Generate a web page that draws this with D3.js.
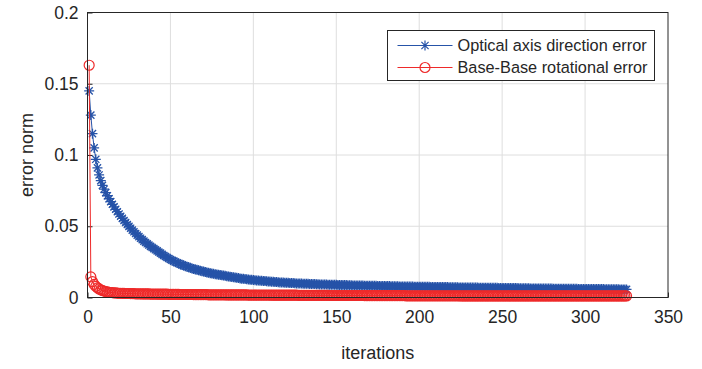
<!DOCTYPE html>
<html>
<head>
<meta charset="utf-8">
<script src="https://cdn.jsdelivr.net/npm/d3@7"></script>
<style>
  body { margin: 0; background: #fff; }
  text { font-family: "Liberation Sans", Arial, sans-serif; fill: #262626; }
</style>
</head>
<body>
<svg id="chart" width="702" height="369"></svg>
<script>
'use strict';

var seriesNames = ['Optical axis direction error', 'Base-Base rotational error'];
var xTicks = [0, 50, 100, 150, 200, 250, 300, 350];
var yTicks = [0, 0.05, 0.1, 0.15, 0.2];
var yTickLabels = ['0', '0.05', '0.1', '0.15', '0.2'];

/** optical axis direction error, one value per iteration (1..325) */
var opticalErr = [
  0.1450, 0.1280, 0.1150, 0.1050, 0.0970, 0.0910, 0.0860, 0.0820, 0.0787, 0.0760,
  0.0736, 0.0714, 0.0693, 0.0673, 0.0654, 0.0636, 0.0619, 0.0602, 0.0586, 0.0570,
  0.0555, 0.0540, 0.0526, 0.0512, 0.0499, 0.0486, 0.0473, 0.0461, 0.0449, 0.0438,
  0.0427, 0.0416, 0.0406, 0.0396, 0.0386, 0.0377, 0.0368, 0.0359, 0.0351, 0.0343,
  0.0335, 0.0327, 0.0319, 0.0311, 0.0303, 0.0295, 0.0288, 0.0281, 0.0274, 0.0267,
  0.0261, 0.0255, 0.0249, 0.0244, 0.0239, 0.0234, 0.0229, 0.0224, 0.0220, 0.0216,
  0.0212, 0.0208, 0.0204, 0.0200, 0.0197, 0.0194, 0.0191, 0.0188, 0.0185, 0.0182,
  0.0179, 0.0176, 0.0173, 0.0170, 0.0168, 0.0166, 0.0164, 0.0162, 0.0160, 0.0158,
  0.0156, 0.0154, 0.0152, 0.0150, 0.0148, 0.0146, 0.0144, 0.0142, 0.0140, 0.0138,
  0.0136, 0.0134, 0.0132, 0.0131, 0.0129, 0.0128, 0.0126, 0.0125, 0.0124, 0.0122,
  0.0121, 0.0120, 0.0119, 0.0118, 0.0117, 0.0116, 0.0115, 0.0114, 0.0113, 0.0112,
  0.0111, 0.0110, 0.0109, 0.0108, 0.0107, 0.0106, 0.0106, 0.0105, 0.0104, 0.0103,
  0.0103, 0.0102, 0.0101, 0.0101, 0.0100, 0.0099, 0.0099, 0.0098, 0.0098, 0.0097,
  0.0097, 0.0096, 0.0096, 0.0095, 0.0095, 0.0094, 0.0094, 0.0093, 0.0093, 0.0092,
  0.0092, 0.0092, 0.0091, 0.0091, 0.0090, 0.0090, 0.0090, 0.0089, 0.0089, 0.0089,
  0.0088, 0.0088, 0.0088, 0.0087, 0.0087, 0.0087, 0.0086, 0.0086, 0.0086, 0.0085,
  0.0085, 0.0085, 0.0085, 0.0084, 0.0084, 0.0084, 0.0083, 0.0083, 0.0083, 0.0083,
  0.0082, 0.0082, 0.0082, 0.0082, 0.0081, 0.0081, 0.0081, 0.0081, 0.0080, 0.0080,
  0.0080, 0.0080, 0.0079, 0.0079, 0.0079, 0.0079, 0.0079, 0.0078, 0.0078, 0.0078,
  0.0078, 0.0077, 0.0077, 0.0077, 0.0077, 0.0077, 0.0076, 0.0076, 0.0076, 0.0076,
  0.0076, 0.0075, 0.0075, 0.0075, 0.0075, 0.0075, 0.0074, 0.0074, 0.0074, 0.0074,
  0.0074, 0.0074, 0.0073, 0.0073, 0.0073, 0.0073, 0.0073, 0.0072, 0.0072, 0.0072,
  0.0072, 0.0072, 0.0072, 0.0071, 0.0071, 0.0071, 0.0071, 0.0071, 0.0071, 0.0070,
  0.0070, 0.0070, 0.0070, 0.0070, 0.0070, 0.0069, 0.0069, 0.0069, 0.0069, 0.0069,
  0.0069, 0.0068, 0.0068, 0.0068, 0.0068, 0.0068, 0.0068, 0.0067, 0.0067, 0.0067,
  0.0067, 0.0067, 0.0067, 0.0066, 0.0066, 0.0066, 0.0066, 0.0066, 0.0066, 0.0065,
  0.0065, 0.0065, 0.0065, 0.0065, 0.0065, 0.0065, 0.0064, 0.0064, 0.0064, 0.0064,
  0.0064, 0.0064, 0.0064, 0.0063, 0.0063, 0.0063, 0.0063, 0.0063, 0.0063, 0.0063,
  0.0062, 0.0062, 0.0062, 0.0062, 0.0062, 0.0062, 0.0062, 0.0061, 0.0061, 0.0061,
  0.0061, 0.0061, 0.0061, 0.0061, 0.0061, 0.0060, 0.0060, 0.0060, 0.0060, 0.0060,
  0.0060, 0.0060, 0.0060, 0.0059, 0.0059, 0.0059, 0.0059, 0.0059, 0.0059, 0.0059,
  0.0059, 0.0058, 0.0058, 0.0058, 0.0058, 0.0058, 0.0058, 0.0058, 0.0058, 0.0058,
  0.0057, 0.0057, 0.0057, 0.0057, 0.0057
];

/** base-base rotational error, one value per iteration (1..325) */
var rotErr = [
  0.1630, 0.0145, 0.0112, 0.0092, 0.0078, 0.0068, 0.0060, 0.0054, 0.0049, 0.0045,
  0.0042, 0.0039, 0.0037, 0.0035, 0.0034, 0.0033, 0.0032, 0.0031, 0.0030, 0.0030,
  0.0029, 0.0029, 0.0028, 0.0028, 0.0028, 0.0027, 0.0027, 0.0027, 0.0026, 0.0026,
  0.0026, 0.0026, 0.0025, 0.0025, 0.0025, 0.0025, 0.0025, 0.0024, 0.0024, 0.0024,
  0.0024, 0.0024, 0.0023, 0.0023, 0.0023, 0.0023, 0.0023, 0.0023, 0.0022, 0.0022,
  0.0022, 0.0022, 0.0022, 0.0022, 0.0022, 0.0021, 0.0021, 0.0021, 0.0021, 0.0021,
  0.0021, 0.0021, 0.0021, 0.0020, 0.0020, 0.0020, 0.0020, 0.0020, 0.0020, 0.0020,
  0.0020, 0.0020, 0.0019, 0.0019, 0.0019, 0.0019, 0.0019, 0.0019, 0.0019, 0.0019,
  0.0019, 0.0019, 0.0019, 0.0018, 0.0018, 0.0018, 0.0018, 0.0018, 0.0018, 0.0018,
  0.0018, 0.0018, 0.0018, 0.0018, 0.0018, 0.0018, 0.0017, 0.0017, 0.0017, 0.0017,
  0.0017, 0.0017, 0.0017, 0.0017, 0.0017, 0.0017, 0.0017, 0.0017, 0.0017, 0.0017,
  0.0016, 0.0016, 0.0016, 0.0016, 0.0016, 0.0016, 0.0016, 0.0016, 0.0016, 0.0016,
  0.0016, 0.0016, 0.0016, 0.0016, 0.0016, 0.0016, 0.0015, 0.0015, 0.0015, 0.0015,
  0.0015, 0.0015, 0.0015, 0.0015, 0.0015, 0.0015, 0.0015, 0.0015, 0.0015, 0.0015,
  0.0015, 0.0015, 0.0015, 0.0015, 0.0015, 0.0014, 0.0014, 0.0014, 0.0014, 0.0014,
  0.0014, 0.0014, 0.0014, 0.0014, 0.0014, 0.0014, 0.0014, 0.0014, 0.0014, 0.0014,
  0.0014, 0.0014, 0.0014, 0.0014, 0.0014, 0.0014, 0.0013, 0.0013, 0.0013, 0.0013,
  0.0013, 0.0013, 0.0013, 0.0013, 0.0013, 0.0013, 0.0013, 0.0013, 0.0013, 0.0013,
  0.0013, 0.0013, 0.0013, 0.0013, 0.0013, 0.0013, 0.0013, 0.0013, 0.0013, 0.0013,
  0.0013, 0.0012, 0.0012, 0.0012, 0.0012, 0.0012, 0.0012, 0.0012, 0.0012, 0.0012,
  0.0012, 0.0012, 0.0012, 0.0012, 0.0012, 0.0012, 0.0012, 0.0012, 0.0012, 0.0012,
  0.0012, 0.0012, 0.0012, 0.0012, 0.0012, 0.0012, 0.0012, 0.0012, 0.0012, 0.0012,
  0.0012, 0.0012, 0.0012, 0.0012, 0.0011, 0.0011, 0.0011, 0.0011, 0.0011, 0.0011,
  0.0011, 0.0011, 0.0011, 0.0011, 0.0011, 0.0011, 0.0011, 0.0011, 0.0011, 0.0011,
  0.0011, 0.0011, 0.0011, 0.0011, 0.0011, 0.0011, 0.0011, 0.0011, 0.0011, 0.0011,
  0.0011, 0.0011, 0.0011, 0.0011, 0.0011, 0.0011, 0.0011, 0.0011, 0.0011, 0.0011,
  0.0011, 0.0011, 0.0011, 0.0011, 0.0011, 0.0011, 0.0011, 0.0011, 0.0011, 0.0011,
  0.0011, 0.0011, 0.0011, 0.0011, 0.0011, 0.0011, 0.0011, 0.0011, 0.0011, 0.0011,
  0.0011, 0.0011, 0.0011, 0.0011, 0.0011, 0.0011, 0.0011, 0.0011, 0.0011, 0.0011,
  0.0011, 0.0011, 0.0011, 0.0011, 0.0011, 0.0011, 0.0011, 0.0011, 0.0011, 0.0011,
  0.0011, 0.0011, 0.0011, 0.0011, 0.0011, 0.0011, 0.0011, 0.0011, 0.0011, 0.0011,
  0.0011, 0.0011, 0.0011, 0.0011, 0.0011, 0.0011, 0.0011, 0.0011, 0.0011, 0.0011,
  0.0011, 0.0011, 0.0011, 0.0011, 0.0011
];

var blue = '#2653a8',
    red = '#ee2a2a',
    axisColor = '#262626',
    gridColor = '#dedede';

var margin = {top: 12.5, right: 34, bottom: 71.5, left: 87.5},
    w = 702,
    h = 369,
    pw = w - margin.left - margin.right,
    ph = h - margin.top - margin.bottom;

var svg = d3.select('#chart');
var g = svg.append('g')
    .attr('transform', 'translate(' + margin.left + ',' + margin.top + ')');

var x = d3.scaleLinear().domain([0, 350]).range([0, pw]);
var y = d3.scaleLinear().domain([0, 0.2]).range([ph, 0]);

/** grid */
g.append('g').selectAll('line')
    .data(xTicks.slice(1, -1))
    .enter()
    .append('line')
    .attr('x1', function(d) { return x(d); })
    .attr('x2', function(d) { return x(d); })
    .attr('y1', 0)
    .attr('y2', ph)
    .attr('stroke', gridColor)
    .attr('stroke-width', 1);

g.append('g').selectAll('line')
    .data(yTicks.slice(1, -1))
    .enter()
    .append('line')
    .attr('x1', 0)
    .attr('x2', pw)
    .attr('y1', function(d) { return y(d); })
    .attr('y2', function(d) { return y(d); })
    .attr('stroke', gridColor)
    .attr('stroke-width', 1);

/** axes: ticks inside, like matlab */
var xAxis = d3.axisBottom(x).tickValues(xTicks).tickSize(-5).tickPadding(13);
var yAxis = d3.axisLeft(y).tickValues(yTicks).tickSize(-5).tickPadding(9)
    .tickFormat(function(d, i) { return yTickLabels[i]; });

var gx = g.append('g')
    .attr('transform', 'translate(0,' + ph + ')')
    .call(xAxis);
var gy = g.append('g').call(yAxis);

[gx, gy].forEach(function(a) {
    a.select('.domain').remove();
    a.selectAll('line').attr('stroke', axisColor);
    a.selectAll('text')
        .style('font-family', '"Liberation Sans", Arial, sans-serif')
        .style('font-size', '17.5px')
        .attr('fill', axisColor);
});

/** data */
var optPts = opticalErr.map(function(v, i) { return [i + 1, v]; });
var rotPts = rotErr.map(function(v, i) { return [i + 1, v]; });

var line = d3.line()
    .x(function(d) { return x(d[0]); })
    .y(function(d) { return y(d[1]); });

var starPath = 'M-5,0H5M0,-5V5M-3.6,-3.6L3.6,3.6M-3.6,3.6L3.6,-3.6';

g.append('path')
    .datum(optPts)
    .attr('d', line)
    .attr('fill', 'none')
    .attr('stroke', blue)
    .attr('stroke-width', 1);

g.append('g').selectAll('path')
    .data(optPts)
    .enter()
    .append('path')
    .attr('transform', function(d) {
        return 'translate(' + x(d[0]) + ',' + y(d[1]) + ')';
    })
    .attr('d', starPath)
    .attr('stroke', blue)
    .attr('stroke-width', 1.3)
    .attr('fill', 'none');

g.append('path')
    .datum(rotPts)
    .attr('d', line)
    .attr('fill', 'none')
    .attr('stroke', red)
    .attr('stroke-width', 1);

g.append('g').selectAll('circle')
    .data(rotPts)
    .enter()
    .append('circle')
    .attr('cx', function(d) { return x(d[0]); })
    .attr('cy', function(d) { return y(d[1]); })
    .attr('r', 5)
    .attr('fill', 'none')
    .attr('stroke', red)
    .attr('stroke-width', 1.2);

/** box */
g.append('rect')
    .attr('x', 0)
    .attr('y', 0)
    .attr('width', pw)
    .attr('height', ph)
    .attr('fill', 'none')
    .attr('stroke', axisColor)
    .attr('stroke-width', 1);

/** axis titles */
svg.append('text')
    .attr('x', margin.left + pw / 2)
    .attr('y', 359)
    .attr('text-anchor', 'middle')
    .style('font-size', '18px')
    .text('iterations');

svg.append('text')
    .attr('transform', 'translate(33,' + (margin.top + ph / 2) + ') rotate(-90)')
    .attr('text-anchor', 'middle')
    .style('font-size', '18px')
    .text('error norm');

/** legend */
var lg = svg.append('g').attr('transform', 'translate(387.5,30.5)');
lg.append('rect')
    .attr('width', 267)
    .attr('height', 50)
    .attr('fill', '#fff')
    .attr('stroke', axisColor)
    .attr('stroke-width', 1);

var legendRows = lg.selectAll('g.row')
    .data(seriesNames)
    .enter()
    .append('g')
    .attr('class', 'row')
    .attr('transform', function(d, i) { return 'translate(0,' + (15 + i * 22) + ')'; });

legendRows.append('line')
    .attr('x1', 10)
    .attr('x2', 65)
    .attr('stroke', function(d, i) { return i === 0 ? blue : red; })
    .attr('stroke-width', 1);

legendRows.append('path')
    .attr('transform', 'translate(37.5,0)')
    .attr('d', function(d, i) { return i === 0 ? starPath : d3.symbol(d3.symbolCircle, 78)(); })
    .attr('stroke', function(d, i) { return i === 0 ? blue : red; })
    .attr('stroke-width', 1.2)
    .attr('fill', 'none');

legendRows.append('text')
    .attr('x', 70)
    .attr('dy', '0.35em')
    .style('font-size', '16.3px')
    .attr('fill', '#000')
    .text(function(d) { return d; });
</script>
</body>
</html>
